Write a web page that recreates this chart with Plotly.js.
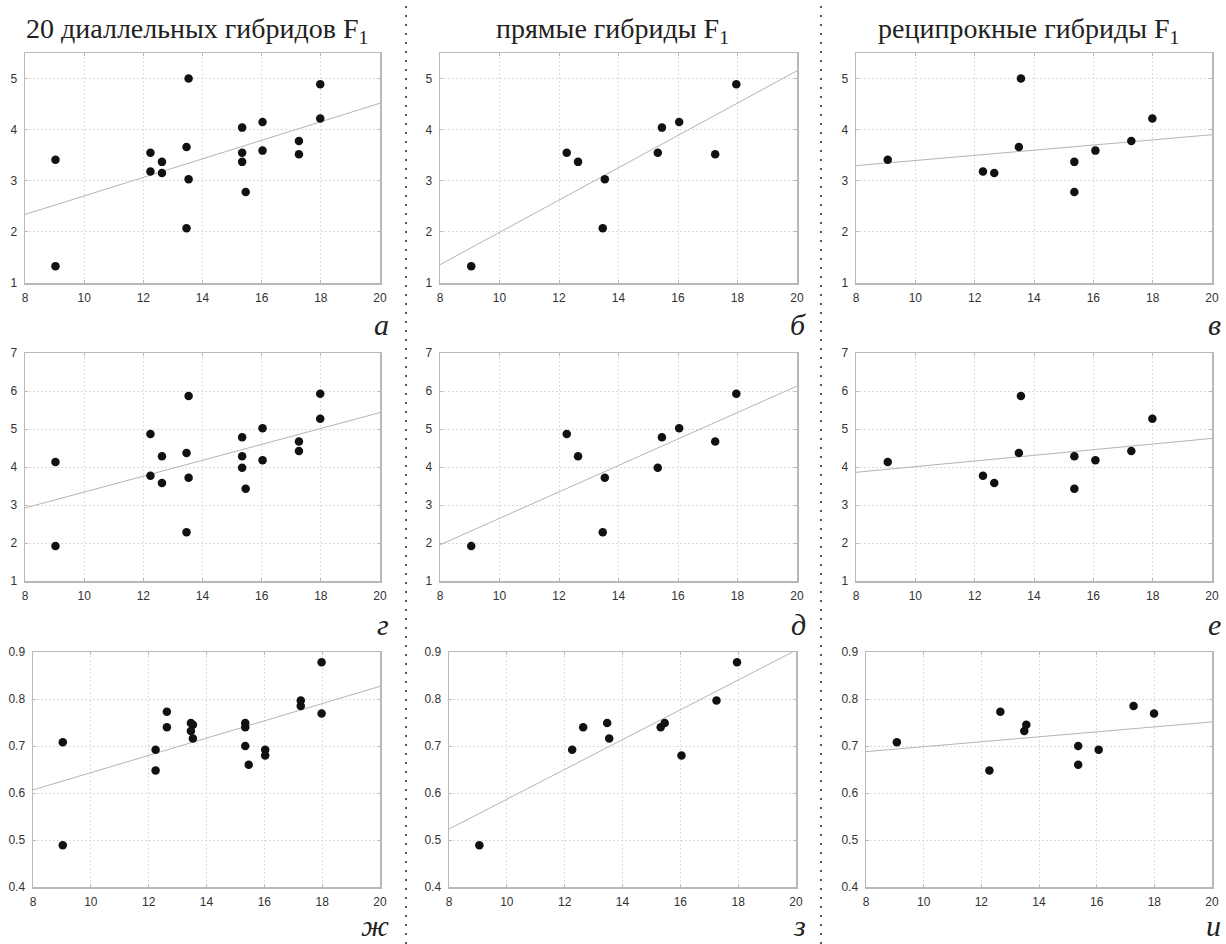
<!DOCTYPE html>
<html><head><meta charset="utf-8">
<script src="https://cdn.plot.ly/plotly-3.0.1.min.js"></script>
<style>html,body{margin:0;padding:0;background:#fff}#chart{width:1226px;height:944px}</style>
</head><body><div id="chart"></div>
<script>
// ---- text ----
const columnTitles = ['20 диаллельных гибридов F<sub>1</sub>', 'прямые гибриды F<sub>1</sub>', 'реципрокные гибриды F<sub>1</sub>'];
const panelLetters = ['а', 'б', 'в', 'г', 'д', 'е', 'ж', 'з', 'и'];
const xTickVals = [8, 10, 12, 14, 16, 18, 20];

// ---- x values (per column) ----
const xAll = [9.03, 9.03, 12.24, 12.24, 12.63, 12.63, 13.46, 13.46, 13.53, 13.53,
              15.34, 15.34, 15.34, 15.46, 16.03, 16.03, 17.26, 17.26, 17.98, 17.98];
const xDirect = [9.05, 12.26, 12.64, 13.47, 13.54, 15.32, 15.46, 16.04, 17.25, 17.96];
const xRecip  = [9.07, 12.28, 12.66, 13.49, 13.56, 15.36, 15.36, 16.07, 17.28, 17.99];

// ---- row 1 ----
const yAllRow1 = [3.41, 1.33, 3.55, 3.18, 3.37, 3.15, 3.66, 2.07, 5.00, 3.03,
                  4.04, 3.55, 3.37, 2.78, 4.15, 3.59, 3.78, 3.52, 4.89, 4.22];
const yDirRow1 = [1.33, 3.55, 3.37, 2.07, 3.03, 3.55, 4.04, 4.15, 3.52, 4.89];
const yRecRow1 = [3.41, 3.18, 3.15, 3.66, 5.00, 3.37, 2.78, 3.59, 3.78, 4.22];

// ---- row 2 ----
const yAllRow2 = [4.13, 1.92, 4.87, 3.77, 4.28, 3.58, 4.37, 2.28, 5.87, 3.72,
                  4.78, 4.28, 3.98, 3.43, 5.02, 4.18, 4.67, 4.42, 5.93, 5.27];
const yDirRow2 = [1.92, 4.87, 4.28, 2.28, 3.72, 3.98, 4.78, 5.02, 4.67, 5.93];
const yRecRow2 = [4.13, 3.77, 3.58, 4.37, 5.87, 4.28, 3.43, 4.18, 4.42, 5.27];

// ---- row 3 ----
const yAllRow3 = [0.708, 0.489, 0.692, 0.648, 0.773, 0.740, 0.749, 0.732, 0.745, 0.716,
                  0.749, 0.740, 0.700, 0.660, 0.692, 0.680, 0.797, 0.785, 0.878, 0.769];
const yDirRow3 = [0.489, 0.692, 0.740, 0.749, 0.716, 0.740, 0.749, 0.680, 0.797, 0.878];
const yRecRow3 = [0.708, 0.648, 0.773, 0.732, 0.745, 0.700, 0.660, 0.692, 0.785, 0.769];

const panels = [
  [xAll, yAllRow1], [xDirect, yDirRow1], [xRecip, yRecRow1],
  [xAll, yAllRow2], [xDirect, yDirRow2], [xRecip, yRecRow2],
  [xAll, yAllRow3], [xDirect, yDirRow3], [xRecip, yRecRow3]
];

function fit(xs, ys) {
  const n = xs.length;
  const mx = xs.reduce((a, b) => a + b, 0) / n;
  const my = ys.reduce((a, b) => a + b, 0) / n;
  let sxy = 0, sxx = 0;
  for (let i = 0; i < n; i++) { sxy += (xs[i] - mx) * (ys[i] - my); sxx += (xs[i] - mx) ** 2; }
  const b = sxy / sxx;
  return [b, my - b * mx];
}

const W = 1226, H = 944;
const SERIF = '"Liberation Serif", "Times New Roman", serif';
// plot area pixel boxes [left, right, top, bottom]
const boxes = [
  [25, 380, 53, 283], [440, 797, 53, 283], [856, 1212, 53, 283],
  [25, 380, 353, 581], [440, 797, 353, 581], [856, 1212, 353, 581],
  [33, 380, 652, 887], [449, 796, 652, 887], [866, 1212, 652, 887]
];
const yRanges = [[1, 5.5], [1, 7], [0.4, 0.9]];
const yDticks = [1, 1, 0.1];

const traces = [];
const layout = {
  width: W, height: H, margin: {l: 0, r: 0, t: 0, b: 0},
  paper_bgcolor: '#fff', plot_bgcolor: '#fff', showlegend: false,
  font: {family: '"Liberation Sans", Arial, sans-serif', size: 12, color: '#333'},
  annotations: [], shapes: []
};

panels.forEach((p, i) => {
  const k = i + 1;
  const xa = 'x' + (k === 1 ? '' : k), ya = 'y' + (k === 1 ? '' : k);
  const [xs, ys] = p;
  const [b, a] = fit(xs, ys);
  const xr = [8, 20];
  traces.push({x: xr, y: xr.map(v => a + b * v), xaxis: xa, yaxis: ya, type: 'scatter', mode: 'lines',
    line: {color: '#b4b4b4', width: 1}, hoverinfo: 'skip'});
  traces.push({x: xs, y: ys, xaxis: xa, yaxis: ya, type: 'scatter', mode: 'markers',
    marker: {color: '#111', size: 8.5}});
  const bx = boxes[i];
  const row = Math.floor(i / 3);
  const common = {showline: true, mirror: 'ticks', linecolor: '#b8b8b8', linewidth: 1.5,
    showgrid: true, gridcolor: '#dcdcdc', griddash: '2px,2px', gridwidth: 1, zeroline: false,
    ticks: 'inside', ticklen: 3, tickcolor: '#b8b8b8', tickfont: {size: 12, color: '#333'}, fixedrange: true};
  layout['xaxis' + (k === 1 ? '' : k)] = Object.assign({}, common, {
    domain: [bx[0] / W, bx[1] / W], anchor: ya, range: [8, 20], tickvals: xTickVals, ticklabelstandoff: 3});
  layout['yaxis' + (k === 1 ? '' : k)] = Object.assign({}, common, {
    domain: [1 - bx[3] / H, 1 - bx[2] / H], anchor: xa, range: yRanges[row], dtick: yDticks[row],
    tick0: yRanges[row][0], tickformat: row === 2 ? '.1f' : 'd', ticklabelstandoff: 4});
  // panel letters
  const lx = [391, 808, 1223][i % 3];
  const ly = [343, 643, 944][row];
  layout.annotations.push({text: panelLetters[i], xref: 'paper', yref: 'paper', x: lx / W, y: 1 - ly / H,
    xanchor: 'right', yanchor: 'bottom', showarrow: false,
    font: {family: SERIF, size: 30, color: '#222', style: 'italic'}});
});

// column titles
[197, 612, 1028].forEach((cx, j) => {
  layout.annotations.push({text: columnTitles[j], xref: 'paper', yref: 'paper', x: cx / W, y: 1 - 30 / H,
    xanchor: 'center', yanchor: 'middle', showarrow: false,
    font: {family: SERIF, size: 28, color: '#222'}});
});

// dividers
[406, 821].forEach(px => {
  layout.shapes.push({type: 'line', xref: 'paper', yref: 'paper', x0: px / W, x1: px / W, y0: 0, y1: 1,
    line: {color: '#222', width: 1.5, dash: '2px,7px'}});
});

Plotly.newPlot('chart', traces, layout, {staticPlot: true, displayModeBar: false});
</script></body></html>
